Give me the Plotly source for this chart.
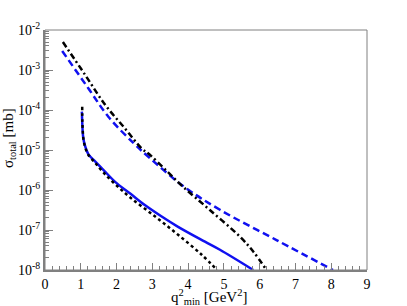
import plotly.graph_objects as go

# Upper black dash-dot curve
q_a = [0.50, 1.12, 1.68, 2.23, 2.70, 2.93, 3.40, 3.86, 4.60, 5.45, 5.82, 6.19]
s_a = [5.0e-3, 7.6e-4, 1.35e-4, 3.5e-5, 1.1e-5, 7.6e-6, 3.0e-6, 1.2e-6, 3.2e-7, 6.8e-8, 2.9e-8, 1.0e-8]

# Upper blue dashed curve
q_b = [0.48, 1.21, 1.77, 2.47, 2.93, 3.86, 4.89, 6.47, 8.05]
s_b = [3.0e-3, 3.5e-4, 6.8e-5, 1.5e-5, 6.3e-6, 1.26e-6, 3.2e-7, 5.6e-8, 1.0e-8]

# Lower blue solid curve
q_c = [1.03, 1.04, 1.05, 1.07, 1.12, 1.21, 1.40, 1.63, 1.96, 2.40, 2.79, 3.25, 3.72, 4.47, 4.89, 5.82]
s_c = [9.1e-5, 5.0e-5, 3.2e-5, 2.0e-5, 1.26e-5, 7.9e-6, 5.2e-6, 3.2e-6, 1.6e-6, 7.9e-7, 4.2e-7, 2.2e-7, 1.2e-7, 5.1e-8, 3.2e-8, 1.0e-8]

# Lower black dotted curve
q_d = [1.04, 1.045, 1.055, 1.07, 1.12, 1.21, 1.40, 1.63, 1.96, 2.40, 3.07, 3.72, 4.38, 4.81]
s_d = [1.2e-4, 5.0e-5, 3.2e-5, 2.0e-5, 1.2e-5, 7.6e-6, 4.8e-6, 2.75e-6, 1.4e-6, 6.3e-7, 2.2e-7, 7.6e-8, 2.4e-8, 1.0e-8]

x_ticks = [0, 1, 2, 3, 4, 5, 6, 7, 8, 9]
y_ticks = [1e-8, 1e-7, 1e-6, 1e-5, 1e-4, 1e-3, 1e-2]
y_labels = ["10<sup>-8</sup>", "10<sup>-7</sup>", "10<sup>-6</sup>", "10<sup>-5</sup>",
            "10<sup>-4</sup>", "10<sup>-3</sup>", "10<sup>-2</sup>"]
y_minor = [m * d for d in y_ticks[:-1] for m in range(2, 10)]
x_minor = [i / 5 for i in range(0, 46)]

BLUE = "#1010f0"
SERIF = "Liberation Serif, Times New Roman, serif"
fig = go.Figure()
fig.add_trace(go.Scatter(x=q_b, y=s_b, mode="lines", line=dict(color=BLUE, width=2.5, dash="7px,4px"), line_shape="spline"))
fig.add_trace(go.Scatter(x=q_a, y=s_a, mode="lines", line=dict(color="black", width=2.5, dash="6px,3px,2px,3px"), line_shape="spline"))
fig.add_trace(go.Scatter(x=q_c, y=s_c, mode="lines", line=dict(color=BLUE, width=2.5), line_shape="spline"))
fig.add_trace(go.Scatter(x=q_d, y=s_d, mode="lines", line=dict(color="black", width=2.5, dash="3px,3px"), line_shape="spline"))

font = dict(family=SERIF, size=14, color="black")
axis_col = "#808080"
fig.update_layout(
    width=407, height=306,
    margin=dict(l=45, r=40, t=30, b=36),
    paper_bgcolor="white", plot_bgcolor="white",
    showlegend=False,
    font=font,
    xaxis=dict(range=[0, 9], tickvals=x_ticks, ticks="inside", ticklen=7, tickwidth=1,
               tickcolor=axis_col, showline=True, linecolor=axis_col, linewidth=2,
               showgrid=False, zeroline=False, tickfont=font, automargin=False,
               minor=dict(tickvals=x_minor, ticks="inside", ticklen=4, tickcolor=axis_col, tickwidth=1)),
    yaxis=dict(type="log", range=[-8, -2], tickvals=y_ticks, ticktext=y_labels,
               ticks="inside", ticklen=8, tickwidth=1, tickcolor=axis_col,
               showline=True, linecolor=axis_col, linewidth=2, automargin=False,
               showgrid=False, zeroline=False, tickfont=font,
               minor=dict(tickvals=y_minor, ticks="inside", ticklen=4, tickcolor=axis_col, tickwidth=1)),
    shapes=[dict(type="rect", xref="paper", yref="paper", x0=0, y0=0, x1=1, y1=1,
                 line=dict(color=axis_col, width=1), layer="above")],
    annotations=[
        dict(text="q<sup>2</sup><sub>min</sub> [GeV<sup>2</sup>]", xref="paper", yref="paper",
             x=0.51, y=0, yshift=-15, xanchor="center", yanchor="top", showarrow=False,
             font=dict(family=SERIF, size=15, color="black")),
        dict(text="σ<sub>total</sub> [mb]", xref="paper", yref="paper",
             x=0, y=0.55, xshift=-36, xanchor="center", yanchor="middle", textangle=-90,
             showarrow=False, font=dict(family=SERIF, size=15, color="black")),
    ],
)
fig.write_html("out.html", config={"displayModeBar": False},
               post_script="document.body.style.margin='0';document.body.style.overflow='hidden';")
